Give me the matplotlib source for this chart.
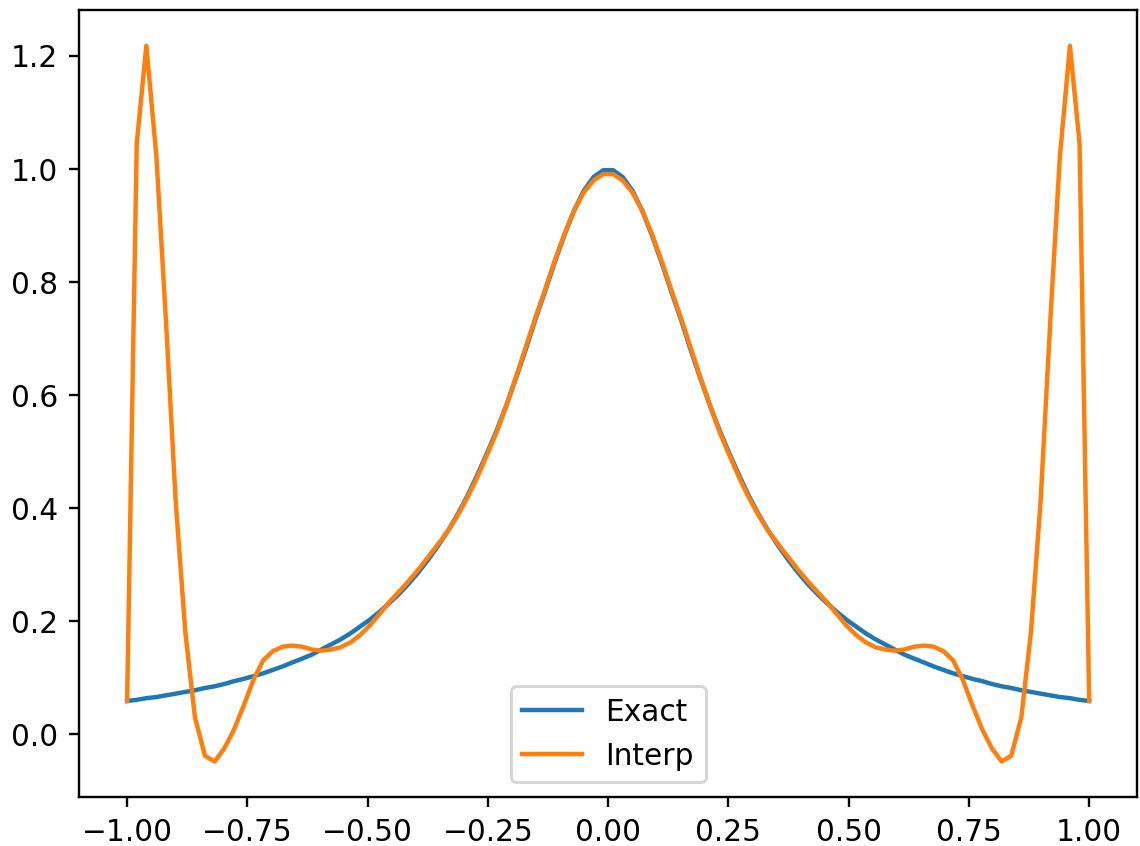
import numpy as np
import matplotlib
matplotlib.use("Agg")
import matplotlib.pyplot as plt

# sample points (100 on [-1, 1])
x = [-1.000, -0.980, -0.960, -0.939, -0.919, -0.899, -0.879, -0.859, -0.838, -0.818,
     -0.798, -0.778, -0.758, -0.737, -0.717, -0.697, -0.677, -0.657, -0.636, -0.616,
     -0.596, -0.576, -0.556, -0.535, -0.515, -0.495, -0.475, -0.455, -0.434, -0.414,
     -0.394, -0.374, -0.354, -0.333, -0.313, -0.293, -0.273, -0.253, -0.232, -0.212,
     -0.192, -0.172, -0.152, -0.131, -0.111, -0.091, -0.071, -0.051, -0.030, -0.010,
     0.010, 0.030, 0.051, 0.071, 0.091, 0.111, 0.131, 0.152, 0.172, 0.192,
     0.212, 0.232, 0.253, 0.273, 0.293, 0.313, 0.333, 0.354, 0.374, 0.394,
     0.414, 0.434, 0.455, 0.475, 0.495, 0.515, 0.535, 0.556, 0.576, 0.596,
     0.616, 0.636, 0.657, 0.677, 0.697, 0.717, 0.737, 0.758, 0.778, 0.798,
     0.818, 0.838, 0.859, 0.879, 0.899, 0.919, 0.939, 0.960, 0.980, 1.000]

exact = [0.059, 0.061, 0.064, 0.066, 0.069, 0.072, 0.075, 0.078, 0.082, 0.085,
         0.089, 0.094, 0.098, 0.103, 0.108, 0.114, 0.120, 0.127, 0.134, 0.141,
         0.150, 0.159, 0.168, 0.179, 0.191, 0.203, 0.217, 0.232, 0.249, 0.267,
         0.287, 0.309, 0.333, 0.360, 0.389, 0.421, 0.457, 0.495, 0.537, 0.581,
         0.629, 0.679, 0.732, 0.784, 0.835, 0.883, 0.926, 0.961, 0.986, 0.998,
         0.998, 0.986, 0.961, 0.926, 0.883, 0.835, 0.784, 0.732, 0.679, 0.629,
         0.581, 0.537, 0.495, 0.457, 0.421, 0.389, 0.360, 0.333, 0.309, 0.287,
         0.267, 0.249, 0.232, 0.217, 0.203, 0.191, 0.179, 0.168, 0.159, 0.150,
         0.141, 0.134, 0.127, 0.120, 0.114, 0.108, 0.103, 0.098, 0.094, 0.089,
         0.085, 0.082, 0.078, 0.075, 0.072, 0.069, 0.066, 0.064, 0.061, 0.059]

interp = [0.059, 1.045, 1.218, 1.021, 0.728, 0.412, 0.181, 0.030, -0.038, -0.048,
          -0.025, 0.008, 0.050, 0.097, 0.131, 0.147, 0.155, 0.157, 0.155, 0.150,
          0.148, 0.150, 0.154, 0.163, 0.176, 0.193, 0.213, 0.234, 0.253, 0.272,
          0.292, 0.314, 0.336, 0.360, 0.387, 0.418, 0.453, 0.492, 0.534, 0.581,
          0.631, 0.683, 0.735, 0.787, 0.838, 0.885, 0.926, 0.958, 0.980, 0.991,
          0.991, 0.980, 0.958, 0.926, 0.885, 0.838, 0.787, 0.735, 0.683, 0.631,
          0.581, 0.534, 0.492, 0.453, 0.418, 0.387, 0.360, 0.336, 0.314, 0.292,
          0.272, 0.253, 0.234, 0.213, 0.193, 0.176, 0.163, 0.154, 0.150, 0.148,
          0.150, 0.155, 0.157, 0.155, 0.147, 0.131, 0.097, 0.050, 0.008, -0.025,
          -0.048, -0.038, 0.030, 0.181, 0.412, 0.728, 1.021, 1.218, 1.045, 0.059]

DPI = 213
fig = plt.figure(figsize=(1140 / DPI, 846 / DPI), dpi=DPI)
ax = fig.add_axes([0.0693, 0.0576, 0.9283, 0.9306])
ax.plot(x, exact, label="Exact")
ax.plot(x, interp, label="Interp")
ax.legend(loc="lower center")

fig.savefig("out.png", dpi=DPI)
